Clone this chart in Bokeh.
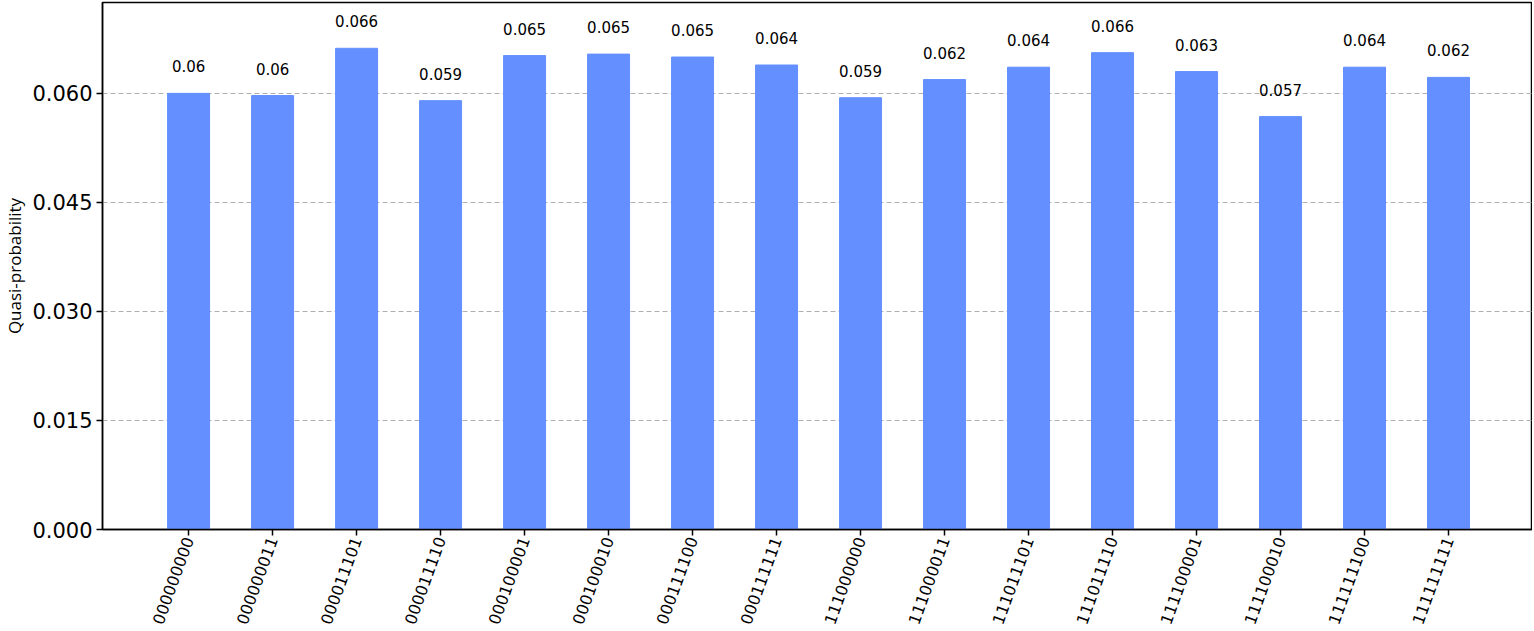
from bokeh.plotting import figure
from bokeh.models import ColumnDataSource, FixedTicker, Range1d
from bokeh.embed import file_html
from bokeh.resources import INLINE
from bokeh.core.properties import value
import math

states = ["000000000", "000000011", "000011101", "000011110", "000100001", "000100010",
          "000111100", "000111111", "111000000", "111000011", "111011101", "111011110",
          "111100001", "111100010", "111111100", "111111111"]
probs = [0.0600, 0.0597, 0.0662, 0.0590, 0.0652, 0.0654, 0.0650, 0.0639,
         0.0594, 0.0619, 0.0636, 0.0656, 0.0630, 0.0568, 0.0636, 0.0622]
labels = ["0.06", "0.06", "0.066", "0.059", "0.065", "0.065", "0.065", "0.064",
          "0.059", "0.062", "0.064", "0.066", "0.063", "0.057", "0.064", "0.062"]
y_ticks = [0.0, 0.015, 0.030, 0.045, 0.060]

xs = list(range(len(states)))
src = ColumnDataSource(dict(x=xs, top=probs, lab=labels))

p = figure(width=1532, height=630, output_backend="svg", toolbar_location=None,
           x_range=Range1d(-1.025, 16.0), y_range=Range1d(0, 0.0725),
           min_border_left=90, min_border_right=0, min_border_top=2, min_border_bottom=80)

p.vbar(x="x", top="top", width=0.5, source=src, color="#648fff")
p.text(x="x", y="top", text="lab", source=src, text_align="center", text_baseline="bottom",
       y_offset=-21, text_font=value("DejaVu Sans"), text_font_size="15px", text_color="black")

p.xaxis.ticker = FixedTicker(ticks=xs)
p.xaxis.major_label_overrides = {i: s for i, s in enumerate(states)}
p.xaxis.major_label_orientation = 70 * math.pi / 180
p.xaxis.major_label_text_font = "DejaVu Sans"
p.xaxis.major_label_text_font_size = "16px"
p.xaxis.major_label_text_color = "black"
p.xaxis.major_label_standoff = 2
p.xaxis.minor_tick_line_color = None

p.yaxis.ticker = FixedTicker(ticks=y_ticks)
p.yaxis.major_label_overrides = {t: f"{t:.3f}" for t in y_ticks}
p.yaxis.major_label_text_font = "DejaVu Sans"
p.yaxis.major_label_text_font_size = "21px"
p.yaxis.major_label_text_color = "black"
p.yaxis.major_label_standoff = 4
p.yaxis.minor_tick_line_color = None
p.yaxis.axis_label = "Quasi-probability"
p.yaxis.axis_label_text_font = "Open Sans"
p.yaxis.axis_label_text_font_style = "normal"
p.yaxis.axis_label_text_font_size = "17px"
p.yaxis.axis_label_text_color = "black"
p.yaxis.axis_label_standoff = 3

for ax in (p.xaxis, p.yaxis):
    ax.axis_line_color = "black"
    ax.axis_line_width = 1.5
    ax.major_tick_line_color = "black"
    ax.major_tick_line_width = 1.5
    ax.major_tick_out = 6
    ax.major_tick_in = 0

p.xgrid.grid_line_color = None
p.ygrid.grid_line_color = "#b0b0b0"
p.ygrid.grid_line_dash = "5 3"
p.ygrid.grid_line_width = 1

p.outline_line_color = "black"
p.outline_line_width = 1.5
p.outline_line_alpha = 1.0

open("out.html", "w").write(file_html(p, INLINE))
